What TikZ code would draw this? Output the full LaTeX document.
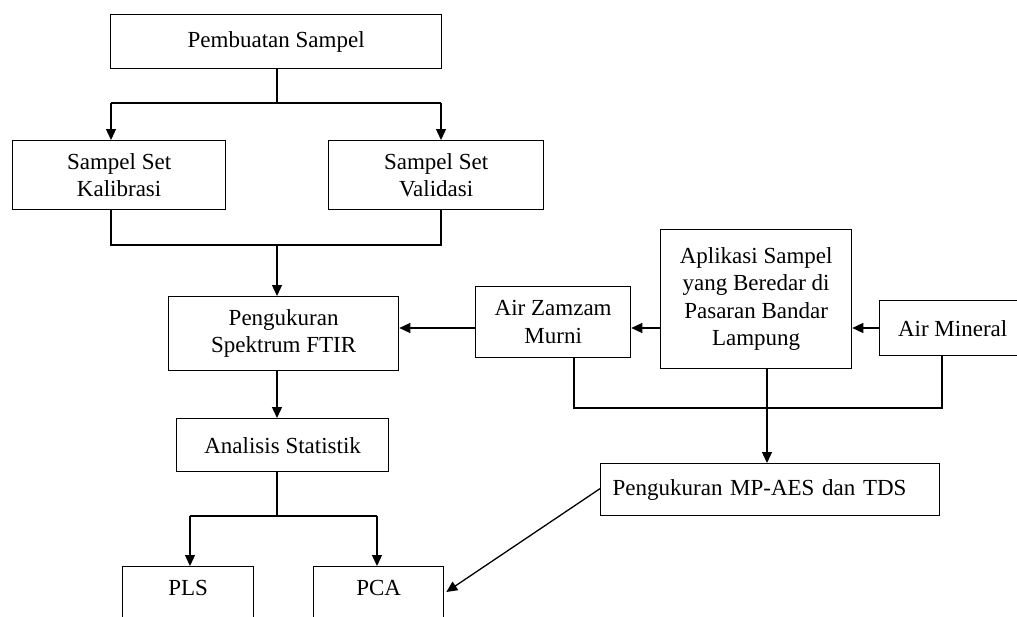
\documentclass[tikz,border=0pt]{standalone}
\usepackage{fontspec}
\setmainfont{Liberation Serif}
\usetikzlibrary{arrows.meta,calc}
\begin{document}
\begin{tikzpicture}[x=1pt,y=-1pt,
  box/.style={draw,line width=1.3pt,inner sep=0pt,align=center,anchor=north west,
    font=\fontsize{23}{27.5}\selectfont},
  ln/.style={line width=1.3pt},
  arr/.style={line width=1.3pt,-{Triangle[length=11pt,width=10pt]}}]
\useasboundingbox (0,0) rectangle (1017,616);
\clip (0,0) rectangle (1017,616);
\fill[white] (0,0) rectangle (1017,616);
% boxes
\node[box,minimum width=331pt,minimum height=54pt] (pemb) at (110,14) {Pembuatan Sampel};
\node[box,minimum width=213pt,minimum height=69pt] (kal) at (12,140) {Sampel Set\\Kalibrasi};
\node[box,minimum width=215pt,minimum height=69pt] (val) at (328,140) {Sampel Set\\Validasi};
\node[box,minimum width=230pt,minimum height=74pt] (ftir) at (168,296) {Pengukuran\\Spektrum FTIR};
\node[box,minimum width=212pt,minimum height=53pt] (anal) at (176,418) {Analisis Statistik};
\node[box,minimum width=131pt,text height=29pt,text depth=50pt] (pls) at (122,566) {PLS};
\node[box,minimum width=130pt,text height=29pt,text depth=50pt] (pca) at (313,566) {PCA};
\node[box,minimum width=155pt,minimum height=71pt] (zam) at (475,286) {Air Zamzam\\Murni};
\node[box,minimum width=191pt,minimum height=139pt] (apl) at (660,229) {Aplikasi Sampel\\yang Beredar di\\Pasaran Bandar\\Lampung};
\node[box,minimum width=146pt,minimum height=55pt] (min) at (879,300) {Air Mineral};
\node[box,text width=315pt,align=left,inner xsep=12pt,minimum height=52pt] (mp) at (600,463) {Pengukuran MP-AES dan TDS};
% helper coordinates
\coordinate (b1) at (111,103);
\coordinate (b2) at (441,103);
\coordinate (c0) at (111,245);
\coordinate (c2) at (441,245);
\coordinate (c1) at (277,245);
\coordinate (d1) at (190,516);
\coordinate (d2) at (377,516);
\coordinate (d0) at (277,516);
\coordinate (h) at (0,328);
\coordinate (z1) at (574,408);
\coordinate (z2) at (942,408);
\coordinate (a1) at (767,408);
% connectors top
\draw[ln] (pemb.south -| c1) -- (b1 -| c1);
\draw[ln] (b1) -- (b2);
\draw[arr] (b1) -- (b1 |- kal.north);
\draw[arr] (b2) -- (b2 |- val.north);
\draw[ln] (c0 |- kal.south) -- (c0) -- (c2) -- (c2 |- val.south);
\draw[arr] (c1) -- (c1 |- ftir.north);
\draw[arr] (c1 |- ftir.south) -- (c1 |- anal.north);
\draw[ln] (c1 |- anal.south) -- (d0);
\draw[ln] (d1) -- (d2);
\draw[arr] (d1) -- (d1 |- pls.north);
\draw[arr] (d2) -- (d2 |- pca.north);
% right side
\draw[arr] (zam.west |- h) -- (ftir.east |- h);
\draw[arr] (apl.west |- h) -- (zam.east |- h);
\draw[arr] (min.west |- h) -- (apl.east |- h);
\draw[ln] (z1 |- zam.south) -- (z1) -- (z2) -- (z2 |- min.south);
\draw[arr] (a1 |- apl.south) -- (a1 |- mp.north);
\draw[arr] ([yshift=1pt]mp.west) -- ([xshift=2pt,yshift=-26pt]pca.north east);
\end{tikzpicture}
\end{document}
